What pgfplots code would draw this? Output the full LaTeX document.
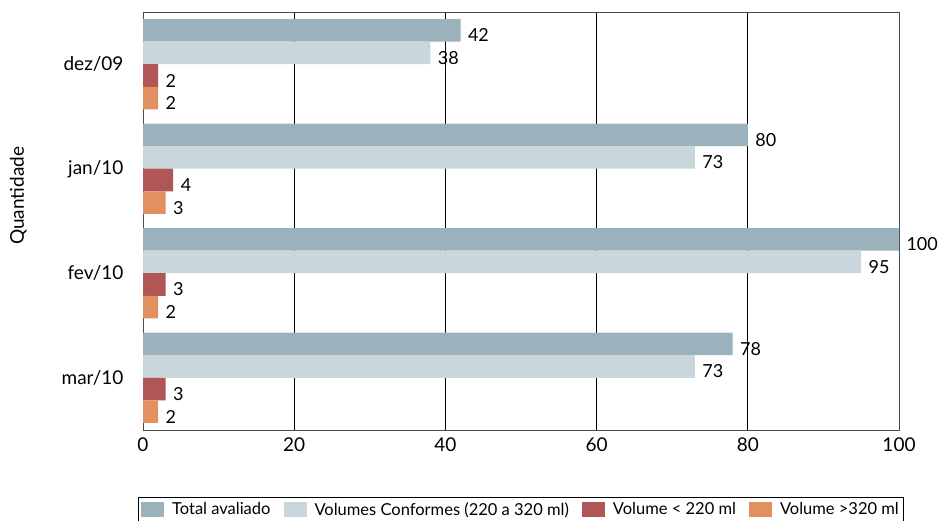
\documentclass[border=0pt]{standalone}
\usepackage{pgfplots}
\pgfplotsset{compat=1.18}
\usepackage{fontspec}
\setmainfont{Lato}

\definecolor{cTotal}{RGB}{155,178,188}
\definecolor{cConf}{RGB}{201,214,219}
\definecolor{cLow}{RGB}{176,86,86}
\definecolor{cHigh}{RGB}{226,144,95}

\begin{document}
\begin{tikzpicture}[x=1pt,y=1pt]
\useasboundingbox (0,0) rectangle (939,521);
\begin{axis}[
    at={(143pt,91pt)}, anchor=south west,
    scale only axis,
    width=756pt, height=418pt,
    xbar,
    y dir=reverse,
    xmin=0, xmax=100,
    ymin=-0.5, ymax=3.5,
    xtick={0,20,40,60,80,100},
    ytick={0,1,2,3},
    yticklabels={dez/09,jan/10,fev/10,mar/10},
    major tick length=0pt,
    xmajorgrids,
    grid style={black, line width=0.8pt},
    axis line style={gray!60!black, line width=0.8pt},
    tick label style={font=\fontsize{19}{21}\selectfont},
    /pgf/number format/assume math mode=true,
    xticklabel style={yshift=-4pt},
    yticklabel style={xshift=-16pt},
    ylabel={Quantidade},
    ylabel style={font=\fontsize{19}{21}\selectfont, at={(axis description cs:-0.165,0.56)}, anchor=center},
    bar width=0.216,
    nodes near coords,
    nodes near coords style={font=\fontsize{18}{20}\selectfont, anchor=west, xshift=4pt, yshift=-5pt},
    legend columns=4,
    legend style={
        at={(0.5,-0.160)}, anchor=north,
        font=\fontsize{16.5}{18}\selectfont,
        draw=black, line width=0.8pt,
        inner xsep=3pt, inner ysep=3pt,
        /tikz/every odd column/.append style={column sep=6pt},
        /tikz/every even column/.append style={column sep=11pt},
    },
    legend image code/.code={\fill[#1, draw=none] (0pt,-7.5pt) rectangle (23pt,7.5pt);},
]
\addplot[fill=cTotal, draw=none, bar shift=-0.324] coordinates {(42,0) (80,1) (100,2) (78,3)};
\addplot[fill=cConf, draw=none, bar shift=-0.108] coordinates {(38,0) (73,1) (95,2) (73,3)};
\addplot[fill=cLow, draw=none, bar shift=0.108] coordinates {(2,0) (4,1) (3,2) (3,3)};
\addplot[fill=cHigh, draw=none, bar shift=0.324] coordinates {(2,0) (3,1) (2,2) (2,3)};
\legend{Total avaliado, Volumes Conformes (220 a 320 ml), Volume < 220 ml, Volume >320 ml}
\end{axis}
\end{tikzpicture}
\end{document}
